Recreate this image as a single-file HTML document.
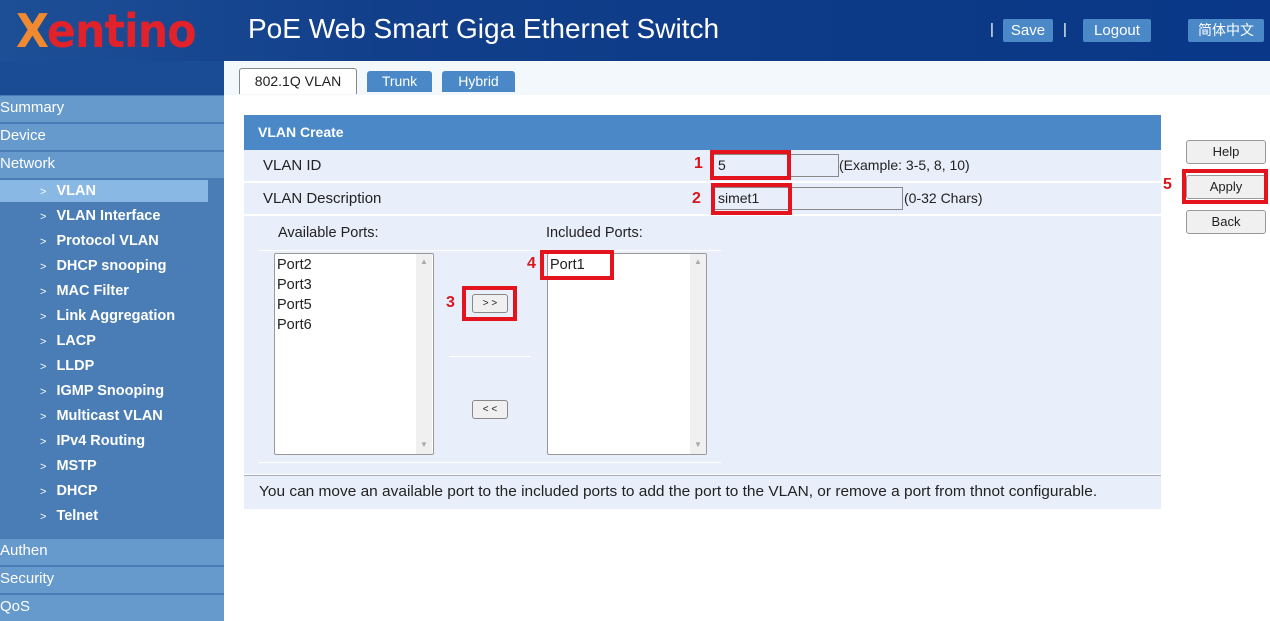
<!DOCTYPE html>
<html><head><meta charset="utf-8"><style>
*{margin:0;padding:0;box-sizing:border-box}
body{width:1270px;height:617px;position:relative;overflow:hidden;background:#fff;font-family:"Liberation Sans","DejaVu Sans",sans-serif;font-size:14px;color:#222}
.a{position:absolute}
.hdr{left:0;top:0;width:1270px;height:61px;background:linear-gradient(90deg,#1d4f96 0%,#123f8a 30%,#0c3a86 70%,#0a3788 100%)}
.side{left:0;top:61px;width:224px;height:556px;background:#4a7db5}
.m{left:0;width:224px;height:26px;background:#6699cc;color:#fff;font-size:15px;line-height:24px;padding-left:0}
.s{left:40px;color:#fff;font-size:14.5px;font-weight:bold;height:22px;line-height:22px}
.s b{font-weight:normal;font-size:11px;margin-right:10px}
.tabbar{left:224px;top:61px;width:1046px;height:34px;background:#f3f8fc}
.tab{top:71px;height:21px;background:#4a88c7;color:#fff;font-size:14px;text-align:center;line-height:21px;border-radius:3px 3px 0 0}
.btn{background:#4a88c7;color:#fff;font-size:15px;text-align:center;line-height:23px;height:23px;top:19px;border-radius:2px}
.row{left:244px;width:917px;background:#e8eefa}
.rb{border:4px solid #e3141d}
.red{color:#d9161e;font-weight:bold;font-size:16px}
.gbtn{left:1186px;width:80px;height:24px;background:#f0f0f0;border:1px solid #999;border-radius:3px;text-align:center;line-height:22px;font-size:13px}
.lst{background:#fff;border:1px solid #999;border-radius:2px}
.sb{background:#f0f0f0;width:16px}
.sbtn{width:36px;height:19px;background:#f0f0f0;border:1px solid #888;border-radius:3px;font-size:10px;text-align:center;line-height:17px}
</style></head><body>
<div class="a hdr"></div>
<div class="a" style="left:16px;top:6px;font-size:46px;color:#e2222b;font-family:'DejaVu Sans',sans-serif;font-weight:bold;letter-spacing:-1px;line-height:50px;transform:scaleX(0.93);transform-origin:0 0"><span style="color:#f08a30">X</span>entino</div>
<div class="a" style="left:248px;top:12px;font-size:28px;color:#fff;line-height:34px">PoE Web Smart Giga Ethernet Switch</div>
<div class="a" style="left:990px;top:21px;color:#fff;font-size:15px">|</div>
<div class="a btn" style="left:1003px;width:50px">Save</div>
<div class="a" style="left:1063px;top:21px;color:#fff;font-size:15px">|</div>
<div class="a btn" style="left:1083px;width:68px">Logout</div>
<div class="a btn" style="left:1188px;width:76px;font-family:'Liberation Sans','Noto Sans CJK SC',sans-serif;font-size:14px">简体中文</div>

<div class="a side"></div>
<div class="a" style="left:0;top:61px;width:224px;height:34px;background:#1a4c96"></div>
<div class="a m" style="top:96px">Summary</div>
<div class="a m" style="top:124px">Device</div>
<div class="a m" style="top:152px">Network</div>
<div class="a" style="left:0;top:180px;width:208px;height:22px;background:#8ab8e4"></div>
<div class="a s" style="top:180px"><b>&gt;</b>VLAN</div>
<div class="a s" style="top:205px"><b>&gt;</b>VLAN Interface</div>
<div class="a s" style="top:230px"><b>&gt;</b>Protocol VLAN</div>
<div class="a s" style="top:255px"><b>&gt;</b>DHCP snooping</div>
<div class="a s" style="top:280px"><b>&gt;</b>MAC Filter</div>
<div class="a s" style="top:305px"><b>&gt;</b>Link Aggregation</div>
<div class="a s" style="top:330px"><b>&gt;</b>LACP</div>
<div class="a s" style="top:355px"><b>&gt;</b>LLDP</div>
<div class="a s" style="top:380px"><b>&gt;</b>IGMP Snooping</div>
<div class="a s" style="top:405px"><b>&gt;</b>Multicast VLAN</div>
<div class="a s" style="top:430px"><b>&gt;</b>IPv4 Routing</div>
<div class="a s" style="top:455px"><b>&gt;</b>MSTP</div>
<div class="a s" style="top:480px"><b>&gt;</b>DHCP</div>
<div class="a s" style="top:505px"><b>&gt;</b>Telnet</div>
<div class="a m" style="top:539px">Authen</div>
<div class="a m" style="top:567px">Security</div>
<div class="a m" style="top:595px">QoS</div>

<div class="a tabbar"></div>
<div class="a" style="left:239px;top:68px;width:118px;height:26px;background:#fff;border:1px solid #888;border-bottom:none;border-radius:3px 3px 0 0;text-align:center;line-height:25px;font-size:14px">802.1Q VLAN</div>
<div class="a tab" style="left:367px;width:65px">Trunk</div>
<div class="a tab" style="left:442px;width:73px">Hybrid</div>

<div class="a" style="left:244px;top:115px;width:917px;height:35px;background:#4a88c7;color:#fff;font-weight:bold;font-size:14px;line-height:35px;padding-left:14px">VLAN Create</div>
<div class="a row" style="top:150px;height:32px;border-bottom:1px solid #fff"></div>
<div class="a row" style="top:183px;height:32px;border-bottom:1px solid #fff"></div>
<div class="a row" style="top:216px;height:258px"></div>
<div class="a row" style="top:475px;height:34px;border-top:1px solid #aab"></div>
<div class="a" style="left:263px;top:157px;font-size:15px">VLAN ID</div>
<div class="a" style="left:263px;top:190px;font-size:15px">VLAN Description</div>
<div class="a" style="left:713px;top:154px;width:126px;height:23px;border:1px solid #888;font-size:14px;line-height:21px;padding-left:4px">5</div>
<div class="a" style="left:839px;top:157px;font-size:14px">(Example: 3-5, 8, 10)</div>
<div class="a" style="left:713px;top:187px;width:190px;height:23px;border:1px solid #888;font-size:14px;line-height:21px;padding-left:4px">simet1</div>
<div class="a" style="left:904px;top:190px;font-size:14px">(0-32 Chars)</div>
<div class="a rb" style="left:710px;top:150px;width:81px;height:30px"></div>
<div class="a rb" style="left:711px;top:183px;width:81px;height:32px"></div>
<div class="a red" style="left:694px;top:155px">1</div>
<div class="a red" style="left:692px;top:190px">2</div>

<div class="a" style="left:278px;top:225px;font-size:14.5px">Available Ports:</div>
<div class="a" style="left:546px;top:225px;font-size:14.5px">Included Ports:</div>
<div class="a" style="left:259px;top:250px;width:462px;height:1px;background:#fff"></div>
<div class="a" style="left:259px;top:462px;width:462px;height:1px;background:#fff"></div>
<div class="a" style="left:449px;top:356px;width:82px;height:1px;background:#fff"></div>
<div class="a lst" style="left:274px;top:253px;width:160px;height:202px"></div>
<div class="a sb" style="left:416px;top:254px;height:200px"></div>
<div class="a" style="left:420px;top:257px;font-size:8px;color:#aaa">▲</div>
<div class="a" style="left:420px;top:440px;font-size:8px;color:#aaa">▼</div>
<div class="a" style="left:277px;top:255px;font-size:14.5px;line-height:20px">Port2<br>Port3<br>Port5<br>Port6</div>
<div class="a lst" style="left:547px;top:253px;width:160px;height:202px"></div>
<div class="a sb" style="left:690px;top:254px;height:200px"></div>
<div class="a" style="left:694px;top:257px;font-size:8px;color:#aaa">▲</div>
<div class="a" style="left:694px;top:440px;font-size:8px;color:#aaa">▼</div>
<div class="a" style="left:550px;top:255px;font-size:14.5px;line-height:20px">Port1</div>
<div class="a rb" style="left:540px;top:250px;width:74px;height:30px"></div>
<div class="a red" style="left:527px;top:255px">4</div>
<div class="a sbtn" style="left:472px;top:294px">&gt; &gt;</div>
<div class="a rb" style="left:462px;top:286px;width:55px;height:35px"></div>
<div class="a red" style="left:446px;top:294px">3</div>
<div class="a sbtn" style="left:472px;top:400px">&lt; &lt;</div>

<div class="a" style="left:259px;top:484px;font-size:14.5px;white-space:nowrap;transform:scaleX(1.065);transform-origin:0 0">You can move an available port to the included ports to add the port to the VLAN, or remove a port from thnot configurable.</div>

<div class="a gbtn" style="top:140px">Help</div>
<div class="a gbtn" style="top:175px">Apply</div>
<div class="a rb" style="left:1182px;top:169px;width:86px;height:35px"></div>
<div class="a red" style="left:1163px;top:176px">5</div>
<div class="a gbtn" style="top:210px">Back</div>
</body></html>
